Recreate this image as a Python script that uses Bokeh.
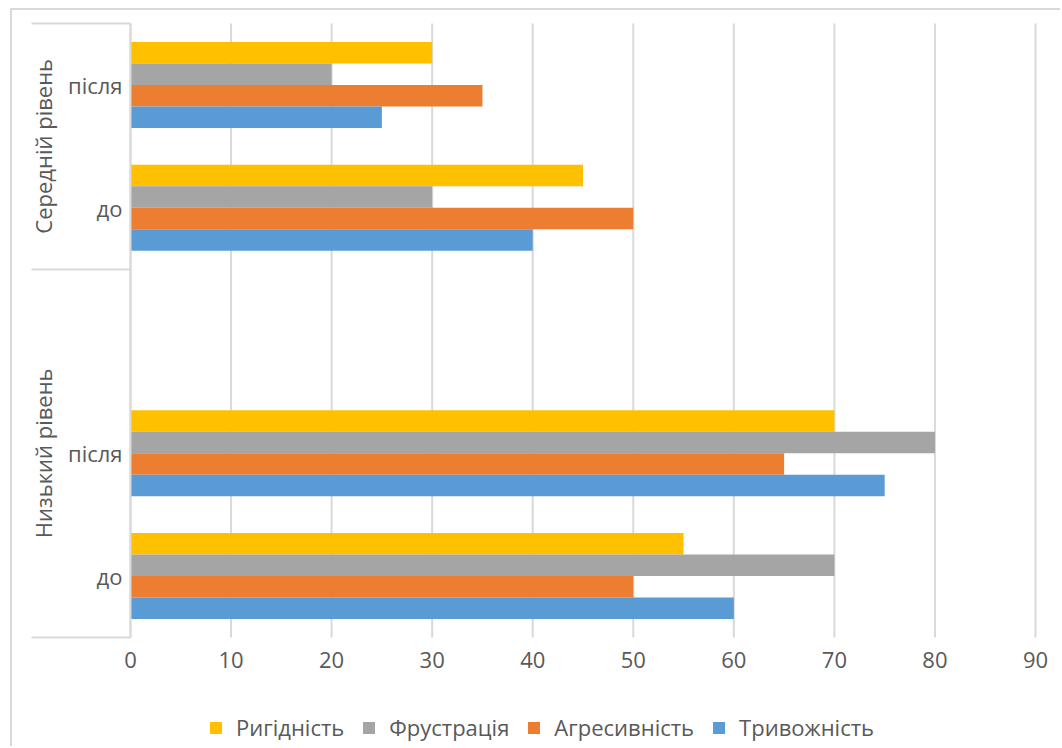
from bokeh.plotting import figure
from bokeh.models import (Range1d, LinearAxis, FixedTicker, Legend, LegendItem,
                          ColumnDataSource)
from bokeh.transform import dodge
from bokeh.embed import file_html
from bokeh.resources import INLINE

# category slots from bottom to top; the empty slot separates the two groups
levels = ["Низький рівень", "Низький рівень", "Низький рівень",
          "Середній рівень", "Середній рівень"]
stages = ["до", "після", "", "до", "після"]

# percentages per series for each slot (None = empty slot)
rygidnist = [55, 70, None, 45, 30]
frustratsiia = [70, 80, None, 30, 20]
agresyvnist = [50, 65, None, 50, 35]
tryvozhnist = [60, 75, None, 40, 25]

series_names = ["Ригідність", "Фрустрація", "Агресивність", "Тривожність"]
series_values = [rygidnist, frustratsiia, agresyvnist, tryvozhnist]
series_colors = ["#FFC000", "#A5A5A5", "#ED7D31", "#5B9BD5"]

x_ticks = [0, 10, 20, 30, 40, 50, 60, 70, 80, 90]

FONT = "Open Sans"
TEXT = "#595959"
LINE = "#d9d9d9"

# canvas and plot-area geometry in pixels
W, H = 1050, 738
PA_LEFT, PA_TOP, PA_W, PA_H = 118, 13, 905, 614

n_slots = len(stages)
slot_pos = list(range(n_slots))
y_lo, y_hi = -0.5, n_slots - 0.5
x_max = x_ticks[-1]
sx = PA_W / x_max
sy = PA_H / (y_hi - y_lo)

x_range = Range1d(-PA_LEFT / sx, (W - PA_LEFT) / sx)
y_range = Range1d(y_lo - (H - PA_TOP - PA_H) / sy, y_hi + PA_TOP / sy)

p = figure(width=W, height=H, x_range=x_range, y_range=y_range,
           output_backend="svg", toolbar_location=None,
           x_axis_location=None, y_axis_location=None,
           min_border=0, margin=(8, 0, 0, 10))
p.styles = {"border-top": f"2px solid {LINE}", "border-left": f"2px solid {LINE}"}
p.outline_line_color = None
p.background_fill_color = "white"
p.border_fill_color = "white"
p.grid.visible = False

# vertical gridlines at the value ticks, across the plot area only
p.segment(x0=x_ticks, x1=x_ticks, y0=y_lo, y1=y_hi, line_color=LINE, line_width=2)

# value axis along the bottom of the plot area
x_axis = LinearAxis(fixed_location=y_lo, ticker=FixedTicker(ticks=x_ticks),
                    axis_line_color=None, major_tick_line_color=None,
                    minor_tick_line_color=None, major_label_standoff=8,
                    major_label_text_font=FONT, major_label_text_font_size="22px",
                    major_label_text_color=TEXT)
p.add_layout(x_axis, "below")

# bars: one renderer per series, shifted within each slot
bar_h = 0.175
renderers = []
n = len(series_names)
for k, (name, vals, col) in enumerate(zip(series_names, series_values, series_colors)):
    ys = [y for y, v in zip(slot_pos, vals) if v is not None]
    xs = [v for v in vals if v is not None]
    src = ColumnDataSource(dict(y=ys, right=xs))
    offset = ((n - 1) / 2 - k) * bar_h
    r = p.hbar(y=dodge("y", offset), right="right", left=0, height=bar_h,
               source=src, fill_color=col, line_color=None)
    renderers.append(r)

# group boundaries along the category axis
group_bounds = [y_lo]
for i in range(1, n_slots):
    if levels[i] != levels[i - 1]:
        group_bounds.append(i - 0.5)
group_bounds.append(y_hi)

# category axis line with long separator ticks between groups
sep_axis = LinearAxis(fixed_location=0, bounds=(y_lo, y_hi),
                      ticker=FixedTicker(ticks=[], minor_ticks=group_bounds),
                      major_tick_line_color=None, major_label_text_font_size="0px",
                      minor_tick_line_color=LINE, minor_tick_line_width=2,
                      minor_tick_out=99, minor_tick_in=0,
                      axis_line_color=LINE, axis_line_width=2)
p.add_layout(sep_axis, "left")

# inner category labels: до / після
stage_ticks = [float(y) for y, s in zip(slot_pos, stages) if s]
stage_axis = LinearAxis(
    fixed_location=0,
    ticker=FixedTicker(ticks=stage_ticks),
    major_label_overrides={float(y): s for y, s in zip(slot_pos, stages) if s},
    major_tick_line_color=None, major_tick_out=0, major_tick_in=0,
    minor_tick_line_color=None, axis_line_color=None,
    major_label_standoff=8, major_label_text_font=FONT,
    major_label_text_font_size="22px", major_label_text_color=TEXT)
p.add_layout(stage_axis, "left")

# outer category labels: group names, rotated
group_names = []
group_centers = []
for a, b in zip(group_bounds[:-1], group_bounds[1:]):
    group_centers.append((a + b) / 2)
    group_names.append(levels[int(a + 0.5)])
GROUP_AXIS_PX = 62
group_axis = LinearAxis(
    fixed_location=(GROUP_AXIS_PX - PA_LEFT - 12) / sx,
    ticker=FixedTicker(ticks=group_centers),
    major_label_overrides={c: g for c, g in zip(group_centers, group_names)},
    major_label_orientation="vertical",
    major_tick_line_color=None, major_tick_out=0, major_tick_in=0,
    minor_tick_line_color=None, axis_line_color=None,
    major_label_standoff=4, major_label_text_font=FONT,
    major_label_text_font_size="22px", major_label_text_color=TEXT)
p.add_layout(group_axis, "left")

legend = Legend(
    items=[LegendItem(label=nm, renderers=[r]) for nm, r in zip(series_names, renderers)],
    orientation="horizontal", location=(196, 6),
    glyph_width=15, glyph_height=15, label_standoff=13, spacing=17,
    padding=0, margin=0, border_line_color=None, background_fill_alpha=0,
    label_text_font=FONT, label_text_font_size="22px", label_text_color=TEXT,
    label_height=15)
p.add_layout(legend)

open("out.html", "w").write(file_html(p, INLINE))
